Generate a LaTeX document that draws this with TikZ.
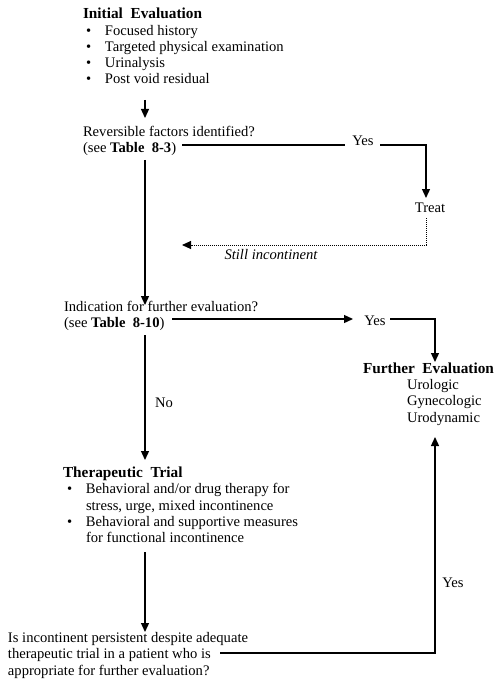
\documentclass[tikz,border=0pt]{standalone}
\usepackage{fontspec}
\setmainfont{Liberation Serif}
\usetikzlibrary{arrows.meta}
\begin{document}
\begin{tikzpicture}[x=1pt,y=-1pt,
  txt/.style={inner sep=0pt, outer sep=0pt, align=left, font=\fontsize{14.6}{16.2}\selectfont, anchor=base west},
  lbl/.style={inner sep=0pt, outer sep=0pt, font=\fontsize{14.6}{16.2}\selectfont, anchor=base},
  conn/.style={line width=1.3pt},
  arr/.style={conn, -{Triangle[length=9pt,width=8pt]}},
  dots/.style={line width=1pt, dash pattern=on 1pt off 1pt, -{Triangle[length=9pt,width=8pt]}}]
\newcommand\hd[1]{{\fontsize{15.3}{16.2}\selectfont\bfseries #1}}
\newcommand\bul{\makebox[22pt][l]{\hspace{3pt}\textbullet}}
\newcommand\bulb{\makebox[23pt][l]{\hspace{4pt}\textbullet}}
\useasboundingbox (0,0) rectangle (500,687);
\fill[white] (0,0) rectangle (500,687);

% nodes (anchored at the baseline of their last line)
\node[txt] (init) at (83,83.8) {\hd{Initial\ \ Evaluation}\\
  \bul Focused history\\
  \bul Targeted physical examination\\
  \bul Urinalysis\\
  \bul Post void residual};
\node[txt] (rev) at (83,153) {Reversible factors identified?\\
  (see \textbf{Table\ \ 8-3})};
\node[lbl] (yes1) at (363,146) {Yes};
\node[lbl] (treat) at (430,212) {Treat};
\node[lbl, font=\fontsize{14.6}{16.2}\selectfont\itshape] (still) at (271,259) {Still incontinent};
\node[txt] (ind) at (64,327.5) {Indication for further evaluation?\\
  (see \textbf{Table\ \ 8-10})};
\node[lbl] (yes2) at (375,325) {Yes};
\node[txt] (further) at (363,422) {\hd{Further\ \ Evaluation}\\
  \hspace*{44pt}Urologic\\
  \hspace*{44pt}Gynecologic\\
  \hspace*{44pt}Urodynamic};
\node[lbl] (no) at (164,407) {No};
\node[txt] (ther) at (63,542.5) {\hd{Therapeutic\ \ Trial}\\
  \bulb Behavioral and/or drug therapy for\\
  \hspace*{23pt}stress, urge, mixed incontinence\\
  \bulb Behavioral and supportive measures\\
  \hspace*{23pt}for functional incontinence};
\node[txt] (pers) at (8,675) {Is incontinent persistent despite adequate\\
  therapeutic trial in a patient who is\\
  appropriate for further evaluation?};
\node[lbl] (yes3) at (453,587) {Yes};

% connector end points
\coordinate (c1s) at (145,100);
\coordinate (c1e) at (145,118);
\coordinate (r1) at (182,145);
\coordinate (r2) at (426,145);
\coordinate (t1) at (426,198);
\coordinate (d1) at (426,218);
\coordinate (d2) at (426,245);
\coordinate (d3) at (182,245);
\coordinate (k1) at (145,160);
\coordinate (k2) at (145,305);
\coordinate (i1) at (172,319);
\coordinate (i2) at (353,319);
\coordinate (i3) at (435,319);
\coordinate (f1) at (435,362);
\coordinate (k3) at (145,335);
\coordinate (k4) at (145,460);
\coordinate (k5) at (145,552);
\coordinate (k6) at (145,632);
\coordinate (p1) at (220,653);
\coordinate (p2) at (435,653);
\coordinate (f2) at (435,437);

% connectors
\draw[arr] (c1s) -- (c1e);
\draw[conn] (r1) -- ([xshift=-18pt]yes1.center |- r1);
\draw[arr] ([xshift=17pt]yes1.center |- r2) -- (r2) -- (t1);
\draw[dots] (d1) -- (d2) -- (d3);
\draw[arr] (k1) -- (k2);
\draw[arr] (i1) -- (i2);
\draw[arr] ([xshift=15pt]yes2.center |- i3) -- (i3) -- (f1);
\draw[arr] (k3) -- (k4);
\draw[arr] (k5) -- (k6);
\draw[arr] (p1) -- (p2) -- (f2);
\end{tikzpicture}
\end{document}
